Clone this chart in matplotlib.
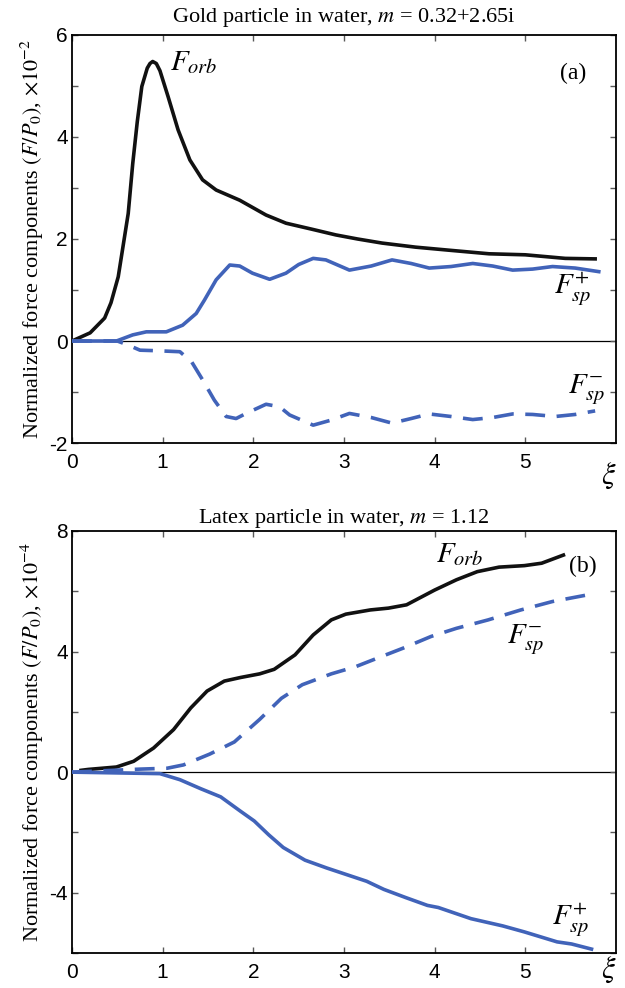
import matplotlib
matplotlib.use("Agg")
import matplotlib.pyplot as plt
from matplotlib.ticker import FixedLocator

plt.rcParams['font.family'] = ['Liberation Serif', 'DejaVu Serif']
plt.rcParams['mathtext.fontset'] = 'stix'
plt.rcParams['axes.unicode_minus'] = False

# ---------------- Data: panel (a) gold, units of 1e-2 ----------------
xi_a_orb = [0, 0.2, 0.36, 0.43, 0.51, 0.62, 0.67, 0.72, 0.77, 0.83, 0.86, 0.89,
            0.93, 0.97, 1.06, 1.17, 1.30, 1.44, 1.59, 1.85, 2.14, 2.36, 2.65,
            2.91, 3.15, 3.42, 3.79, 4.16, 4.6, 5.0, 5.44, 5.77]
F_a_orb = [0, 0.16, 0.45, 0.75, 1.26, 2.5, 3.48, 4.3, 4.99, 5.35, 5.44, 5.48,
           5.44, 5.3, 4.79, 4.14, 3.55, 3.16, 2.96, 2.76, 2.47, 2.31, 2.19,
           2.08, 2.0, 1.92, 1.84, 1.78, 1.71, 1.69, 1.62, 1.61]

xi_a_sp_plus = [0, 0.49, 0.67, 0.82, 1.04, 1.22, 1.37, 1.46, 1.59, 1.74, 1.85,
                1.99, 2.18, 2.36, 2.50, 2.66, 2.80, 3.06, 3.30, 3.53, 3.74,
                3.94, 4.18, 4.42, 4.64, 4.86, 5.08, 5.30, 5.55, 5.81]
F_a_sp_plus = [0, 0, 0.12, 0.18, 0.18, 0.31, 0.54, 0.8, 1.2, 1.49, 1.47,
               1.33, 1.21, 1.33, 1.5, 1.62, 1.59, 1.39, 1.47, 1.59, 1.52,
               1.43, 1.46, 1.52, 1.47, 1.39, 1.41, 1.46, 1.43, 1.36]

xi_a_sp_minus = [0, 0.5, 0.62, 0.75, 0.93, 1.19, 1.32, 1.44, 1.57, 1.70, 1.81,
                 1.92, 2.14, 2.29, 2.40, 2.66, 2.86, 3.06, 3.30, 3.53, 3.74,
                 3.94, 4.18, 4.42, 4.64, 4.86, 5.08, 5.33, 5.55, 5.77]
F_a_sp_minus = [0, 0, -0.08, -0.18, -0.19, -0.21, -0.41, -0.76, -1.16, -1.48,
                -1.52, -1.42, -1.24, -1.29, -1.45, -1.65, -1.55, -1.42, -1.5,
                -1.61, -1.52, -1.43, -1.48, -1.54, -1.5, -1.43, -1.44, -1.48,
                -1.44, -1.37]

# ---------------- Data: panel (b) latex, units of 1e-4 ----------------
xi_b_orb = [0.1, 0.18, 0.49, 0.68, 0.9, 1.12, 1.31, 1.49, 1.68, 1.86, 2.07,
            2.23, 2.46, 2.66, 2.86, 3.02, 3.29, 3.49, 3.69, 4.0, 4.24, 4.47,
            4.71, 4.99, 5.18, 5.42]
F_b_orb = [0.06, 0.09, 0.17, 0.36, 0.8, 1.41, 2.13, 2.69, 3.02, 3.14, 3.26,
           3.41, 3.89, 4.55, 5.05, 5.24, 5.38, 5.44, 5.55, 6.04, 6.38, 6.65,
           6.8, 6.85, 6.93, 7.2]

xi_b_sp_minus = [0, 0.75, 1.05, 1.23, 1.52, 1.79, 2.07, 2.31, 2.54, 2.86, 3.13,
                 3.41, 3.65, 3.96, 4.24, 4.59, 4.95, 5.3, 5.74]
F_b_sp_minus = [0, 0.1, 0.13, 0.24, 0.6, 1.0, 1.75, 2.45, 2.9, 3.26, 3.5,
                3.83, 4.11, 4.5, 4.77, 5.05, 5.38, 5.66, 5.91]

xi_b_sp_plus = [0, 0.97, 1.19, 1.42, 1.64, 1.86, 2.01, 2.17, 2.33, 2.57, 2.81,
                2.97, 3.25, 3.44, 3.68, 3.92, 4.04, 4.4, 4.75, 4.99, 5.35,
                5.51, 5.73]
F_b_sp_plus = [0, -0.05, -0.25, -0.55, -0.82, -1.3, -1.62, -2.08, -2.5,
               -2.92, -3.18, -3.34, -3.62, -3.89, -4.16, -4.42, -4.49, -4.86,
               -5.1, -5.3, -5.63, -5.7, -5.87]

x_ticks = [0, 1, 2, 3, 4, 5]
a_major = [-2, 0, 2, 4, 6]
a_minor = [-1, 1, 3, 5]
b_major = [-4, 0, 4, 8]
b_minor = [-6, -2, 2, 6]

BLUE = '#4163b9'
LW = 2.6
DASH = (5.5, 3.2)

fig = plt.figure(figsize=(6.25, 9.88), dpi=100)
ax1 = fig.add_axes([0.1152, 0.5516, 0.8704, 0.4130])
ax2 = fig.add_axes([0.1152, 0.0354, 0.8704, 0.4272])


def style(ax, ylim, major, minor):
    ax.set_xlim(0, 6)
    ax.set_ylim(*ylim)
    ax.xaxis.set_major_locator(FixedLocator(x_ticks))
    ax.yaxis.set_major_locator(FixedLocator(major))
    ax.yaxis.set_minor_locator(FixedLocator(minor))
    ax.set_xticklabels([str(t) for t in x_ticks])
    ax.set_yticklabels([str(t) for t in major])
    ax.tick_params(which='both', direction='in', top=True, right=True,
                   length=4, width=1, color='0.35')
    ax.tick_params(axis='x', pad=7)
    ax.tick_params(axis='y', pad=3)
    for lab in ax.get_xticklabels() + ax.get_yticklabels():
        lab.set_family('Liberation Sans')
        lab.set_fontsize(15)
    for sp in ax.spines.values():
        sp.set_linewidth(1.3)
    ax.axhline(0, color='k', lw=0.9, zorder=1)


# ---- panel (a)
style(ax1, (-2, 6), a_major, a_minor)
ax1.plot(xi_a_orb, F_a_orb, color='#111111', lw=LW, zorder=3)
ax1.plot(xi_a_sp_plus, F_a_sp_plus, color=BLUE, lw=LW, zorder=4)
ax1.plot(xi_a_sp_minus, F_a_sp_minus, color=BLUE, lw=LW, dashes=DASH, zorder=4)
ax1.set_title(r"Gold particle in water, $m$ = 0.32+2.65i", fontsize=16, pad=9)
ax1.text(1.08, 5.45, r"$F_{orb}$", fontsize=21, ha='left', va='center')
ax1.text(5.53, 5.25, "(a)", fontsize=17, ha='center', va='center')
ax1.text(5.52, 1.0, r"$F_{sp}^{+}$", fontsize=21, ha='center', va='center')
ax1.text(5.68, -0.96, r"$F_{sp}^{-}$", fontsize=21, ha='center', va='center')

# ---- panel (b)
style(ax2, (-6, 8), b_major, b_minor)
ax2.plot(xi_b_orb, F_b_orb, color='#111111', lw=LW, zorder=3)
ax2.plot(xi_b_sp_minus, F_b_sp_minus, color=BLUE, lw=LW, dashes=DASH, zorder=4)
ax2.plot(xi_b_sp_plus, F_b_sp_plus, color=BLUE, lw=LW, zorder=4)
ax2.set_title(r"Latex particle in water, $m$ = 1.12", fontsize=16, pad=6)
ax2.text(4.28, 7.2, r"$F_{orb}$", fontsize=21, ha='center', va='center')
ax2.text(5.63, 6.83, "(b)", fontsize=17, ha='center', va='center')
ax2.text(5.0, 4.4, r"$F_{sp}^{-}$", fontsize=21, ha='center', va='center')
ax2.text(5.5, -4.93, r"$F_{sp}^{+}$", fontsize=21, ha='center', va='center')

# y labels
fig.text(32 / 625, 1 - 239 / 988,
         r"Normalized force components $(F/P_0)$, $\times10^{-2}$",
         rotation=90, ha='center', va='center', fontsize=16)
fig.text(32 / 625, 1 - 742 / 988,
         r"Normalized force components $(F/P_0)$, $\times10^{-4}$",
         rotation=90, ha='center', va='center', fontsize=16)

# xi labels
fig.text(609 / 625, 1 - 476 / 988, r"$\xi$", fontsize=22, ha='center', va='center')
fig.text(609 / 625, 1 - 970 / 988, r"$\xi$", fontsize=22, ha='center', va='center')

fig.savefig("out.png", dpi=100)
